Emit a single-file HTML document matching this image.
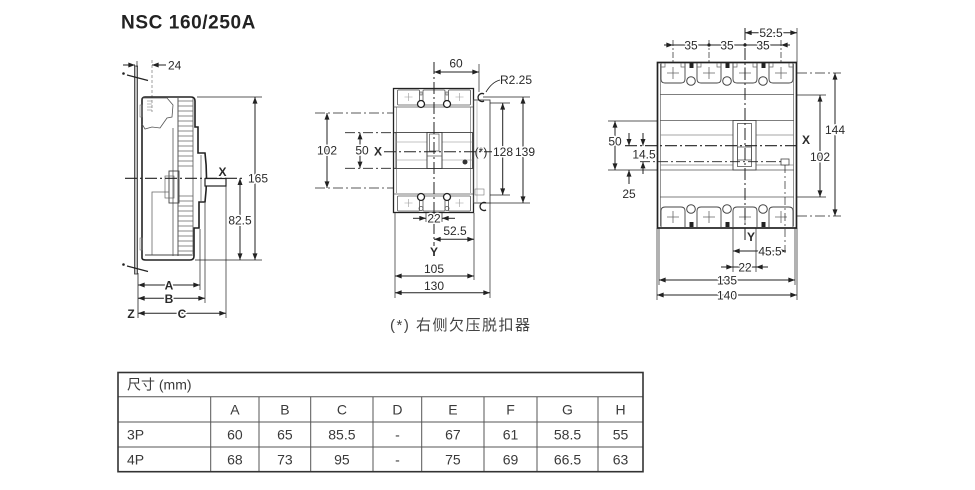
<!DOCTYPE html>
<html><head><meta charset="utf-8">
<style>
html,body{margin:0;padding:0;background:#fff;}
svg{display:block}
text{font-family:"Liberation Sans","Noto Sans CJK SC",sans-serif;stroke:none;}
.l{font-size:12px;fill:#2a2a2a;}
.h{stroke:#fff;stroke-width:3px;paint-order:stroke;stroke-linejoin:round}
.tb{font-size:14px;fill:#3a3a3a;}
</style></head><body>
<svg width="975" height="490" viewBox="0 0 975 490" xmlns="http://www.w3.org/2000/svg">
<defs>
<marker id="a" viewBox="0 0 8 6" refX="8" refY="3" markerWidth="8" markerHeight="5" markerUnits="userSpaceOnUse" orient="auto-start-reverse"><path d="M0,0L8,3L0,6z" fill="#222"/></marker>
</defs>

<!-- Title -->
<text x="121" y="28.5" font-size="19" font-weight="bold" fill="#222" letter-spacing="0.6">NSC 160/250A</text>

<!-- ================= LEFT SIDE VIEW ================= -->
<g fill="none" stroke="#222" stroke-width="1">
  <rect x="134.5" y="66" width="3" height="208" fill="#bbb" stroke="#333" stroke-width="0.8"/>
  <line x1="127" y1="75" x2="148" y2="80.5" stroke-width="1.2"/>
  <line x1="127" y1="266" x2="148" y2="271.5" stroke-width="1.2"/>
  <circle cx="123.5" cy="73.5" r="0.8" fill="#222"/>
  <circle cx="123.5" cy="264.5" r="0.8" fill="#222"/>
  <line x1="123" y1="65" x2="135" y2="65" marker-end="url(#a)"/>
  <line x1="166" y1="65" x2="152" y2="65" marker-end="url(#a)"/>
  <line x1="137" y1="61" x2="137" y2="67" stroke-width="0.7"/>
  <line x1="152" y1="60" x2="152" y2="112" stroke="#777" stroke-width="0.7" stroke-dasharray="3 2"/>
  <path d="M142,258 L142,100 Q142,97 145,97 L191,97 Q195,97 195,101 L195,127 L198,127 L198,153 L205,153 Q208,177 205,202 L199,202 L199,228 L194,228 L194,256 Q194,260 190,260 L146,260 Q142,260 142,258 Z" stroke-width="1.6"/>
  <rect x="205" y="178.5" width="21" height="7.5" stroke-width="1.2" fill="#fff"/>
  <path d="M142,98 L167,98 L173,105 L172,117 L167,118 L160,128 L152,127 L145,129 L142,124" stroke="#555" stroke-width="0.8"/>
  <path d="M147,101H152M147,104H152M147,107H152M147,110H152" stroke="#777" stroke-width="0.6"/>
  <line x1="178" y1="98" x2="178" y2="256" stroke="#444" stroke-width="0.9"/>
  <line x1="173" y1="128" x2="173" y2="256" stroke="#555" stroke-width="0.8"/>
  <line x1="193" y1="98" x2="193" y2="256" stroke="#555" stroke-width="0.8"/>
  <path d="M178,101H193M178,106H193M178,111H193M178,116H193M178,121H193M178,126H193M178,131H193M178,136H193M178,141H193M178,146H193M178,151H193M178,156H193M178,161H193M178,166H193M178,196H193M178,201H193M178,206H193M178,211H193M178,216H193M178,221H193M178,226H193M178,231H193M178,236H193M178,241H193M178,246H193M178,251H193" stroke="#666" stroke-width="0.8"/>
  <line x1="201" y1="155" x2="201" y2="201" stroke="#666" stroke-width="0.8"/>
  <rect x="169" y="171" width="10" height="32" stroke="#444" stroke-width="0.9"/>
  <rect x="165" y="176" width="9" height="22" stroke="#666" stroke-width="0.7"/>
  <path d="M152,255 L152,192 L169,192" stroke="#666" stroke-width="0.8"/>
  <line x1="145" y1="255" x2="192" y2="255" stroke="#444" stroke-width="0.9"/>
  <rect x="140" y="105" width="2" height="12" stroke="#777" stroke-width="0.6"/>
  <rect x="140" y="238" width="2" height="12" stroke="#777" stroke-width="0.6"/>
  <line x1="125" y1="178.3" x2="244" y2="178.3" stroke-width="1.1" stroke-dasharray="12 3 2 3"/>
  <line x1="197" y1="97" x2="262" y2="97" stroke-width="0.7"/>
  <line x1="195" y1="260" x2="262" y2="260" stroke-width="0.7"/>
  <line x1="255" y1="97" x2="255" y2="260" marker-start="url(#a)" marker-end="url(#a)"/>
  <line x1="240" y1="178.3" x2="240" y2="260" marker-start="url(#a)" marker-end="url(#a)"/>
  <line x1="200" y1="229" x2="200" y2="290" stroke-width="0.7"/>
  <line x1="205" y1="203" x2="205" y2="303" stroke-width="0.7"/>
  <line x1="226" y1="186" x2="226" y2="318" stroke-width="0.7"/>
  <line x1="138" y1="273" x2="138" y2="318" stroke-width="0.8"/>
  <line x1="138" y1="285" x2="200" y2="285" marker-start="url(#a)" marker-end="url(#a)"/>
  <line x1="138" y1="298.3" x2="205" y2="298.3" marker-start="url(#a)" marker-end="url(#a)"/>
  <line x1="138" y1="313.3" x2="226" y2="313.3" marker-start="url(#a)" marker-end="url(#a)"/>
</g>
<g>
  <text x="168" y="69.5" class="l">24</text>
  <text x="222.5" y="176" class="l" text-anchor="middle" font-weight="bold">X</text>
  <text x="258" y="182.5" class="l h" text-anchor="middle">165</text>
  <text x="240" y="224.5" class="l h" text-anchor="middle">82.5</text>
  <text x="169" y="289.5" class="l h" text-anchor="middle" font-weight="bold">A</text>
  <text x="169" y="302.8" class="l h" text-anchor="middle" font-weight="bold">B</text>
  <text x="182" y="317.8" class="l h" text-anchor="middle" font-weight="bold">C</text>
  <text x="131" y="317.8" class="l" text-anchor="middle" font-weight="bold">Z</text>
</g>

<!-- ================= FRONT VIEW (3P) ================= -->
<g fill="none" stroke="#222" stroke-width="1">
  <rect x="393.5" y="88.5" width="80" height="124" stroke-width="1.3"/>
  <line x1="396.5" y1="107" x2="396.5" y2="193" stroke="#777" stroke-width="0.7"/>
  <line x1="470.5" y1="107" x2="470.5" y2="193" stroke="#777" stroke-width="0.7"/>
  <line x1="393.5" y1="107" x2="473.5" y2="107" stroke="#555" stroke-width="0.8"/>
  <line x1="393.5" y1="194" x2="473.5" y2="194" stroke="#555" stroke-width="0.8"/>
  <g stroke="#555" stroke-width="0.8">
    <rect x="397.5" y="90" width="22" height="15" rx="1"/>
    <rect x="423" y="90" width="22" height="15" rx="1"/>
    <rect x="448.5" y="90" width="22" height="15" rx="1"/>
    <rect x="397.5" y="196" width="22" height="15" rx="1"/>
    <rect x="423" y="196" width="22" height="15" rx="1"/>
    <rect x="448.5" y="196" width="22" height="15" rx="1"/>
  </g>
  <path d="M404.5,97H412.5M408.5,93V101M455.5,97H463.5M459.5,93V101M404.5,203H412.5M408.5,199V207M455.5,203H463.5M459.5,199V207" stroke="#999" stroke-width="0.6"/>
  <circle cx="421" cy="104" r="3.5" fill="#fff" stroke-width="1.3"/>
  <circle cx="447" cy="104" r="3.5" fill="#fff" stroke-width="1.3"/>
  <circle cx="421" cy="197" r="3.5" fill="#fff" stroke-width="1.3"/>
  <circle cx="447" cy="197" r="3.5" fill="#fff" stroke-width="1.3"/>
  <circle cx="421" cy="208.5" r="2" stroke="#555" stroke-width="0.8"/>
  <circle cx="447" cy="208.5" r="2" stroke="#555" stroke-width="0.8"/>
  <rect x="420" y="92" width="2" height="3" stroke="#555" stroke-width="0.6"/>
  <rect x="446" y="92" width="2" height="3" stroke="#555" stroke-width="0.6"/>
  <rect x="396" y="132.5" width="76.5" height="36" stroke="#444" stroke-width="0.9"/>
  <line x1="396" y1="142" x2="472.5" y2="142" stroke="#888" stroke-width="0.6"/>
  <line x1="396" y1="160" x2="472.5" y2="160" stroke="#888" stroke-width="0.6"/>
  <rect x="427" y="132.5" width="15" height="36" stroke="#333" stroke-width="0.9" fill="#fff"/>
  <rect x="429.5" y="134" width="9.5" height="17" stroke="#555" stroke-width="0.7"/>
  <line x1="427" y1="156" x2="442" y2="156" stroke="#555" stroke-width="0.7"/>
  <circle cx="465" cy="162" r="2.5" fill="#333" stroke="none"/>
  <rect x="473.5" y="100" width="16.5" height="103" stroke="#444" stroke-width="0.9"/>
  <line x1="477" y1="100" x2="477" y2="203" stroke="#999" stroke-width="0.6"/>
  <path d="M484,94 A4,4 0 1 0 484,101" stroke-width="1.3"/>
  <path d="M486,203 A4,4 0 1 0 486,210" stroke-width="1.3"/>
  <rect x="475" y="189" width="9" height="6" stroke="#777" stroke-width="0.6"/>
  <path d="M486,92 Q492,82 500,80" stroke-width="0.9"/>
  <line x1="434" y1="62" x2="434" y2="246" stroke-width="1" stroke-dasharray="12 3 2 3"/>
  <line x1="384" y1="151.7" x2="492" y2="151.7" stroke-width="1" stroke-dasharray="12 3 2 3"/>
  <line x1="315" y1="113" x2="393" y2="113" stroke-width="0.8" stroke-dasharray="10 3 2 3"/>
  <line x1="315" y1="188" x2="393" y2="188" stroke-width="0.8" stroke-dasharray="10 3 2 3"/>
  <line x1="345" y1="132.7" x2="396" y2="132.7" stroke-width="0.8" stroke-dasharray="10 3 2 3"/>
  <line x1="345" y1="168.3" x2="396" y2="168.3" stroke-width="0.8" stroke-dasharray="10 3 2 3"/>
  <line x1="327" y1="113" x2="327" y2="188" marker-start="url(#a)" marker-end="url(#a)"/>
  <line x1="360" y1="132.7" x2="360" y2="168.3" marker-start="url(#a)" marker-end="url(#a)"/>
  <line x1="479" y1="64" x2="479" y2="92" stroke-width="0.7"/>
  <line x1="434" y1="72" x2="479" y2="72" marker-start="url(#a)" marker-end="url(#a)"/>
  <line x1="483" y1="97" x2="530" y2="97" stroke-width="0.7"/>
  <line x1="490" y1="103" x2="510" y2="103" stroke-width="0.7"/>
  <line x1="490" y1="195" x2="510" y2="195" stroke-width="0.7"/>
  <line x1="490" y1="203" x2="530" y2="203" stroke-width="0.7"/>
  <line x1="502.7" y1="103" x2="502.7" y2="195" marker-start="url(#a)" marker-end="url(#a)"/>
  <line x1="523" y1="97" x2="523" y2="203" marker-start="url(#a)" marker-end="url(#a)"/>
  <line x1="426" y1="213" x2="426" y2="222" stroke-width="0.7"/>
  <line x1="442" y1="213" x2="442" y2="222" stroke-width="0.7"/>
  <line x1="413" y1="218.3" x2="426" y2="218.3" marker-end="url(#a)"/>
  <line x1="455" y1="218.3" x2="442" y2="218.3" marker-end="url(#a)"/>
  <line x1="474" y1="213" x2="474" y2="280" stroke-width="0.7"/>
  <line x1="395" y1="213" x2="395" y2="298" stroke-width="0.7"/>
  <line x1="490" y1="203" x2="490" y2="298" stroke-width="0.7"/>
  <line x1="434" y1="239.3" x2="474" y2="239.3" marker-start="url(#a)" marker-end="url(#a)"/>
  <line x1="395" y1="276" x2="474" y2="276" marker-start="url(#a)" marker-end="url(#a)"/>
  <line x1="395" y1="292.7" x2="490" y2="292.7" marker-start="url(#a)" marker-end="url(#a)"/>
</g>
<g>
  <text x="456" y="67.5" class="l" text-anchor="middle">60</text>
  <text x="500" y="84" class="l" font-size="11">R2.25</text>
  <text x="327" y="154.5" class="l h" text-anchor="middle">102</text>
  <text x="362" y="154.5" class="l h" text-anchor="middle">50</text>
  <text x="378" y="155.5" class="l" text-anchor="middle" font-weight="bold">X</text>
  <text x="481" y="156" class="l" text-anchor="middle" font-size="9">(*)</text>
  <text x="503" y="156" class="l h" text-anchor="middle">128</text>
  <text x="525" y="156" class="l h" text-anchor="middle">139</text>
  <text x="434" y="222.5" class="l h" text-anchor="middle">22</text>
  <text x="455" y="235" class="l" text-anchor="middle">52.5</text>
  <text x="434" y="256" class="l" text-anchor="middle" font-weight="bold">Y</text>
  <text x="434" y="273" class="l" text-anchor="middle">105</text>
  <text x="434" y="290" class="l" text-anchor="middle">130</text>
  <text x="390" y="330" font-size="15" fill="#444" letter-spacing="1.5">(*) 右侧欠压脱扣器</text>
</g>

<!-- ================= RIGHT VIEW (4P) ================= -->
<g fill="none" stroke="#222" stroke-width="1">
  <rect x="657.5" y="62.5" width="139" height="165.5" stroke-width="1.7"/>
  <line x1="660.5" y1="64" x2="660.5" y2="226" stroke="#666" stroke-width="0.7"/>
  <line x1="793.5" y1="64" x2="793.5" y2="226" stroke="#666" stroke-width="0.7"/>
  <path d="M661,63V79Q661,83 665,83H681Q685,83 685,79V63M697,63V79Q697,83 701,83H717Q721,83 721,79V63M733,63V79Q733,83 737,83H753Q757,83 757,79V63M769,63V79Q769,83 773,83H789Q793,83 793,79V63" stroke="#444" stroke-width="0.9"/>
  <path d="M661,67H665V63M685,67H681V63M697,67H701V63M721,67H717V63M733,67H737V63M757,67H753V63M769,67H773V63M793,67H789V63" stroke="#666" stroke-width="0.7"/>
  <path d="M667,73H679M673,67V79M703,73H715M709,67V79M739,73H751M745,67V79M775,73H787M781,67V79" stroke="#666" stroke-width="0.8"/>
  <path d="M661,227V211Q661,207 665,207H681Q685,207 685,211V227M697,227V211Q697,207 701,207H717Q721,207 721,211V227M733,227V211Q733,207 737,207H753Q757,207 757,211V227M769,227V211Q769,207 773,207H789Q793,207 793,211V227" stroke="#444" stroke-width="0.9"/>
  <path d="M667,217H679M673,211V223M703,217H715M709,211V223M739,217H751M745,211V223M775,217H787M781,211V223" stroke="#666" stroke-width="0.8"/>
  <circle cx="691" cy="81" r="4.3" stroke="#444"/>
  <circle cx="727" cy="81" r="4.3" stroke="#444"/>
  <circle cx="763" cy="81" r="4.3" stroke="#444"/>
  <circle cx="691" cy="209" r="4.3" stroke="#444"/>
  <circle cx="727" cy="209" r="4.3" stroke="#444"/>
  <circle cx="763" cy="209" r="4.3" stroke="#444"/>
  <g fill="#222" stroke="none">
    <rect x="689.5" y="63" width="4" height="5"/>
    <rect x="725.5" y="63" width="4" height="5"/>
    <rect x="761.5" y="63" width="4" height="5"/>
    <rect x="689.5" y="222" width="4" height="5"/>
    <rect x="725.5" y="222" width="4" height="5"/>
    <rect x="761.5" y="222" width="4" height="5"/>
  </g>
  <line x1="660" y1="94.5" x2="794" y2="94.5" stroke="#555" stroke-width="0.8"/>
  <line x1="660" y1="120.5" x2="794" y2="120.5" stroke="#555" stroke-width="0.8"/>
  <line x1="660" y1="135" x2="794" y2="135" stroke="#888" stroke-width="0.7"/>
  <line x1="660" y1="165" x2="794" y2="165" stroke="#888" stroke-width="0.7"/>
  <line x1="660" y1="170" x2="794" y2="170" stroke="#555" stroke-width="0.8"/>
  <line x1="660" y1="197" x2="794" y2="197" stroke="#555" stroke-width="0.8"/>
  <rect x="733" y="120.5" width="23" height="49.5" stroke="#444" stroke-width="0.9" fill="#fff"/>
  <rect x="737.5" y="123.5" width="14" height="43" stroke="#555" stroke-width="0.8"/>
  <rect x="737.5" y="147" width="14" height="13" stroke="#555" stroke-width="0.8"/>
  <rect x="781" y="159" width="8" height="6" stroke="#444" stroke-width="0.8" fill="#fff"/>
  <line x1="745" y1="28" x2="745" y2="240" stroke-width="1" stroke-dasharray="12 3 2 3"/>
  <line x1="625" y1="145.7" x2="800" y2="145.7" stroke-width="1.1" stroke-dasharray="12 3 2 3"/>
  <line x1="640" y1="161.7" x2="781" y2="161.7" stroke-width="0.8" stroke-dasharray="10 3 2 3"/>
  <line x1="785" y1="165" x2="785" y2="256" stroke-width="0.7" stroke-dasharray="8 3 2 3"/>
  <line x1="673" y1="40" x2="673" y2="62" stroke-width="0.7" stroke-dasharray="6 2 2 2"/>
  <line x1="709" y1="40" x2="709" y2="62" stroke-width="0.7" stroke-dasharray="6 2 2 2"/>
  <line x1="781" y1="40" x2="781" y2="62" stroke-width="0.7" stroke-dasharray="6 2 2 2"/>
  <line x1="797" y1="28" x2="797" y2="62" stroke-width="0.7"/>
  <line x1="664" y1="45" x2="673" y2="45" marker-end="url(#a)"/>
  <line x1="790" y1="45" x2="781" y2="45" marker-end="url(#a)"/>
  <line x1="673" y1="45" x2="781" y2="45" stroke-width="0.9"/>
  <circle cx="709" cy="45" r="1.6" fill="#222" stroke="none"/>
  <circle cx="745" cy="45" r="1.6" fill="#222" stroke="none"/>
  <line x1="745" y1="32.7" x2="797" y2="32.7" marker-start="url(#a)" marker-end="url(#a)"/>
  <line x1="797" y1="73" x2="841" y2="73" stroke-width="0.8" stroke-dasharray="10 3 2 3"/>
  <line x1="797" y1="216" x2="841" y2="216" stroke-width="0.8" stroke-dasharray="10 3 2 3"/>
  <line x1="797" y1="95" x2="826" y2="95" stroke-width="0.7"/>
  <line x1="797" y1="197" x2="826" y2="197" stroke-width="0.7"/>
  <line x1="835" y1="73" x2="835" y2="216" marker-start="url(#a)" marker-end="url(#a)"/>
  <line x1="820" y1="95" x2="820" y2="197" marker-start="url(#a)" marker-end="url(#a)"/>
  <line x1="608" y1="121" x2="657" y2="121" stroke-width="0.7"/>
  <line x1="608" y1="170" x2="657" y2="170" stroke-width="0.7"/>
  <line x1="615" y1="121" x2="615" y2="170" marker-start="url(#a)" marker-end="url(#a)"/>
  <line x1="629" y1="133" x2="629" y2="145.7" marker-end="url(#a)"/>
  <line x1="643" y1="133" x2="643" y2="145.7" marker-end="url(#a)"/>
  <line x1="643" y1="174" x2="643" y2="161.7" marker-end="url(#a)"/>
  <line x1="629" y1="184" x2="629" y2="170" marker-end="url(#a)"/>
  <line x1="733" y1="228" x2="733" y2="272" stroke-width="0.7"/>
  <line x1="756" y1="228" x2="756" y2="272" stroke-width="0.7"/>
  <line x1="657" y1="228" x2="657" y2="300" stroke-width="0.7"/>
  <line x1="797" y1="228" x2="797" y2="300" stroke-width="0.7"/>
  <line x1="659" y1="228" x2="659" y2="285" stroke-width="0.7"/>
  <line x1="795" y1="228" x2="795" y2="285" stroke-width="0.7"/>
  <line x1="733" y1="251" x2="786" y2="251" marker-start="url(#a)" marker-end="url(#a)"/>
  <line x1="721" y1="267" x2="733" y2="267" marker-end="url(#a)"/>
  <line x1="768" y1="267" x2="756" y2="267" marker-end="url(#a)"/>
  <line x1="733" y1="267" x2="756" y2="267" stroke-width="0.9"/>
  <line x1="659" y1="280" x2="795" y2="280" marker-start="url(#a)" marker-end="url(#a)"/>
  <line x1="657" y1="295" x2="797" y2="295" marker-start="url(#a)" marker-end="url(#a)"/>
</g>
<g>
  <text x="691" y="49.3" class="l h" text-anchor="middle">35</text>
  <text x="727" y="49.3" class="l h" text-anchor="middle">35</text>
  <text x="763" y="49.3" class="l h" text-anchor="middle">35</text>
  <text x="771" y="37" class="l h" text-anchor="middle">52.5</text>
  <text x="835" y="134" class="l h" text-anchor="middle">144</text>
  <text x="820" y="161" class="l h" text-anchor="middle">102</text>
  <text x="806" y="144" class="l" text-anchor="middle" font-weight="bold">X</text>
  <text x="615" y="145.5" class="l h" text-anchor="middle">50</text>
  <text x="644" y="158.5" class="l h" text-anchor="middle">14.5</text>
  <text x="629" y="198" class="l" text-anchor="middle">25</text>
  <text x="751" y="241" class="l" text-anchor="middle" font-weight="bold">Y</text>
  <text x="770" y="255.3" class="l h" text-anchor="middle">45.5</text>
  <text x="745" y="271.3" class="l h" text-anchor="middle">22</text>
  <text x="727" y="284.3" class="l h" text-anchor="middle">135</text>
  <text x="727" y="299.3" class="l h" text-anchor="middle">140</text>
</g>

<!-- ================= TABLE ================= -->
<g fill="none" stroke="#555" stroke-width="1">
  <line x1="118" y1="396.7" x2="643" y2="396.7"/>
  <line x1="118" y1="422" x2="643" y2="422"/>
  <line x1="118" y1="447" x2="643" y2="447"/>
  <line x1="210.7" y1="396.7" x2="210.7" y2="471.7"/>
  <line x1="259" y1="396.7" x2="259" y2="471.7"/>
  <line x1="310.7" y1="396.7" x2="310.7" y2="471.7"/>
  <line x1="373" y1="396.7" x2="373" y2="471.7"/>
  <line x1="421.7" y1="396.7" x2="421.7" y2="471.7"/>
  <line x1="484" y1="396.7" x2="484" y2="471.7"/>
  <line x1="537" y1="396.7" x2="537" y2="471.7"/>
  <line x1="598" y1="396.7" x2="598" y2="471.7"/>
  <rect x="118" y="372.5" width="525" height="99.2" stroke="#333" stroke-width="1.6"/>
</g>
<g class="tb">
  <text x="127" y="389.5" class="tb">尺寸 (mm)</text>
  <text x="234.9" y="414.5" class="tb" text-anchor="middle">A</text>
  <text x="284.9" y="414.5" class="tb" text-anchor="middle">B</text>
  <text x="341.9" y="414.5" class="tb" text-anchor="middle">C</text>
  <text x="397.4" y="414.5" class="tb" text-anchor="middle">D</text>
  <text x="452.9" y="414.5" class="tb" text-anchor="middle">E</text>
  <text x="510.5" y="414.5" class="tb" text-anchor="middle">F</text>
  <text x="567.5" y="414.5" class="tb" text-anchor="middle">G</text>
  <text x="620.5" y="414.5" class="tb" text-anchor="middle">H</text>

  <text x="127" y="439.5" class="tb">3P</text>
  <text x="234.9" y="439.5" class="tb" text-anchor="middle">60</text>
  <text x="284.9" y="439.5" class="tb" text-anchor="middle">65</text>
  <text x="341.9" y="439.5" class="tb" text-anchor="middle">85.5</text>
  <text x="397.4" y="439.5" class="tb" text-anchor="middle">-</text>
  <text x="452.9" y="439.5" class="tb" text-anchor="middle">67</text>
  <text x="510.5" y="439.5" class="tb" text-anchor="middle">61</text>
  <text x="567.5" y="439.5" class="tb" text-anchor="middle">58.5</text>
  <text x="620.5" y="439.5" class="tb" text-anchor="middle">55</text>

  <text x="127" y="464.5" class="tb">4P</text>
  <text x="234.9" y="464.5" class="tb" text-anchor="middle">68</text>
  <text x="284.9" y="464.5" class="tb" text-anchor="middle">73</text>
  <text x="341.9" y="464.5" class="tb" text-anchor="middle">95</text>
  <text x="397.4" y="464.5" class="tb" text-anchor="middle">-</text>
  <text x="452.9" y="464.5" class="tb" text-anchor="middle">75</text>
  <text x="510.5" y="464.5" class="tb" text-anchor="middle">69</text>
  <text x="567.5" y="464.5" class="tb" text-anchor="middle">66.5</text>
  <text x="620.5" y="464.5" class="tb" text-anchor="middle">63</text>
</g>
</svg>
</body></html>
